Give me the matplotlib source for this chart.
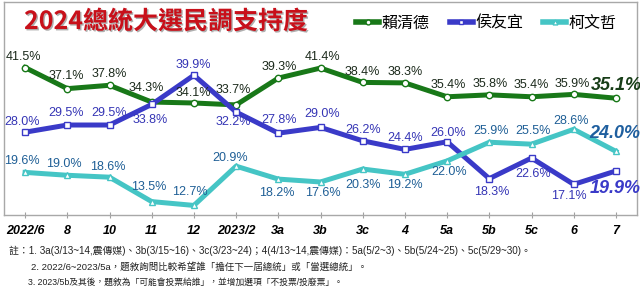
import matplotlib
matplotlib.use('Agg')
import matplotlib.pyplot as plt
import matplotlib.patheffects as pe
from matplotlib.lines import Line2D

# data
periods = ['2022/6', '8', '10', '11', '12', '2023/2', '3a', '3b', '3c', '4', '5a', '5b', '5c', '6', '7']
lai = [41.5, 37.1, 37.8, 34.3, 34.1, 33.7, 39.3, 41.4, 38.4, 38.3, 35.4, 35.8, 35.4, 35.9, 35.1]
hou = [28.0, 29.5, 29.5, 33.8, 39.9, 32.2, 27.8, 29.0, 26.2, 24.4, 26.0, 18.3, 22.6, 17.1, 19.9]
ko = [19.6, 19.0, 18.6, 13.5, 12.7, 20.9, 18.2, 17.6, 20.3, 19.2, 22.0, 25.9, 25.5, 28.6, 24.0]
names = ['賴清德', '侯友宜', '柯文哲']

title = '2024總統大選民調支持度'
notes = [
    '註：1. 3a(3/13~14,震傳媒)、3b(3/15~16)、3c(3/23~24)；4(4/13~14,震傳媒)：5a(5/2~3)、5b(5/24~25)、5c(5/29~30)。',
    '2. 2022/6~2023/5a，題敘詢問比較希望誰「擔任下一屆總統」或「當選總統」。',
    '3. 2023/5b及其後，題敘為「可能會投票給誰」，並增加選項「不投票/投廢票」。',
]

# label offsets in pixels (dx, dy), y down as on screen
lai_off = [(-2, -11), (-1, -13), (0, -11), (-5, -14), (-1, -10), (-3, -15), (1, -11), (2, -11),
           (0, -10), (0, -11), (1, -12), (1, -11), (0, -12), (-1, -10), (0, -13)]
hou_off = [(-3, -10), (-1, -12), (0, -12), (-2, 16), (-1, -10), (-3, 10), (1, -13), (2, -13),
           (0, -11), (0, -11), (1, -9), (2, 13), (2, 16), (-5, 12), (-1, 18)]
ko_off = [(-3, -11), (-3, -11), (-2, -10), (-3, -15), (-4, -13), (-6, -8), (-1, 14), (2, 11),
          (0, 16), (0, 11), (2, 11), (2, -11), (2, -13), (-3, -8), (-1, -18)]

series = [
    (lai, '#187818', 'o', '#1c2a1c', '#173d17', lai_off),
    (hou, '#3a3ac8', 's', '#3535b5', '#3a3ac8', hou_off),
    (ko, '#45c5c5', '^', '#1f5f96', '#1f5f9f', ko_off),
]

num_font = ['Liberation Sans Narrow', 'Liberation Sans', 'DejaVu Sans']
cjk_font = ['Noto Sans CJK TC', 'DejaVu Sans']

fig = plt.figure(figsize=(6.4, 2.89), dpi=100)
ax = fig.add_axes([4 / 640, 1 - 215 / 289, 633 / 640, 213 / 289])

x = list(range(len(periods)))
handles = []
for vals, color, marker, lab_color, last_color, offs in series:
    ax.plot(x, vals, color=color, lw=3.6, marker=marker, markersize=4.6,
            markerfacecolor='white', markeredgecolor=color, markeredgewidth=1.0,
            solid_joinstyle='round', zorder=3)
    handles.append(Line2D([0], [0], color=color, lw=4, marker=marker, markersize=3.5,
                          markerfacecolor='white', markeredgecolor=color))
    for i, v in enumerate(vals):
        dx, dy = offs[i]
        last = i == len(vals) - 1
        ax.annotate(f'{v:.1f}%', (i, v), xytext=(dx, -dy), textcoords='offset pixels',
                    ha='center', va='center',
                    fontsize=13 if last else 9,
                    fontweight='bold' if last else 'normal',
                    fontstyle='italic' if last else 'normal',
                    color=last_color if last else lab_color,
                    family=num_font, zorder=4)

ax.set_xlim(-0.5, 14.5)
ax.set_ylim(10.7, 55.2)
ax.set_yticks([])
ax.set_xticks(x)
ax.set_xticklabels(periods, fontsize=9, fontweight='bold', fontstyle='italic', family=num_font)
ax.tick_params(axis='x', direction='inout', length=5, color='#a0a0a0', pad=5)
for s in ax.spines.values():
    s.set_color('#a8a8a8')
    s.set_linewidth(1)

leg = ax.legend(handles, names, loc='center right', bbox_to_anchor=(0.968, 0.901), ncol=3,
                frameon=False, handlelength=1.45, handletextpad=0.15, columnspacing=1.25,
                borderpad=0, borderaxespad=0, prop={'family': cjk_font, 'size': 11.5})

fig.text(166 / 640, 1 - 22 / 289, title, ha='center', va='center', fontsize=18,
         fontweight='heavy', color='#c8101a', family=cjk_font,
         path_effects=[pe.withSimplePatchShadow(offset=(1, -1), shadow_rgbFace='#7a7a7a', alpha=0.6)])

note_font = ['Liberation Sans', 'Noto Sans CJK TC']
fig.text(9 / 640, 1 - 251 / 289, notes[0], ha='left', va='center', fontsize=7.1,
         color='#222222', family=note_font)
fig.text(31 / 640, 1 - 267 / 289, notes[1], ha='left', va='center', fontsize=6.8,
         color='#222222', family=note_font)
fig.text(28 / 640, 1 - 282 / 289, notes[2], ha='left', va='center', fontsize=6.3,
         color='#222222', family=note_font)

fig.savefig('out.png', dpi=100)
